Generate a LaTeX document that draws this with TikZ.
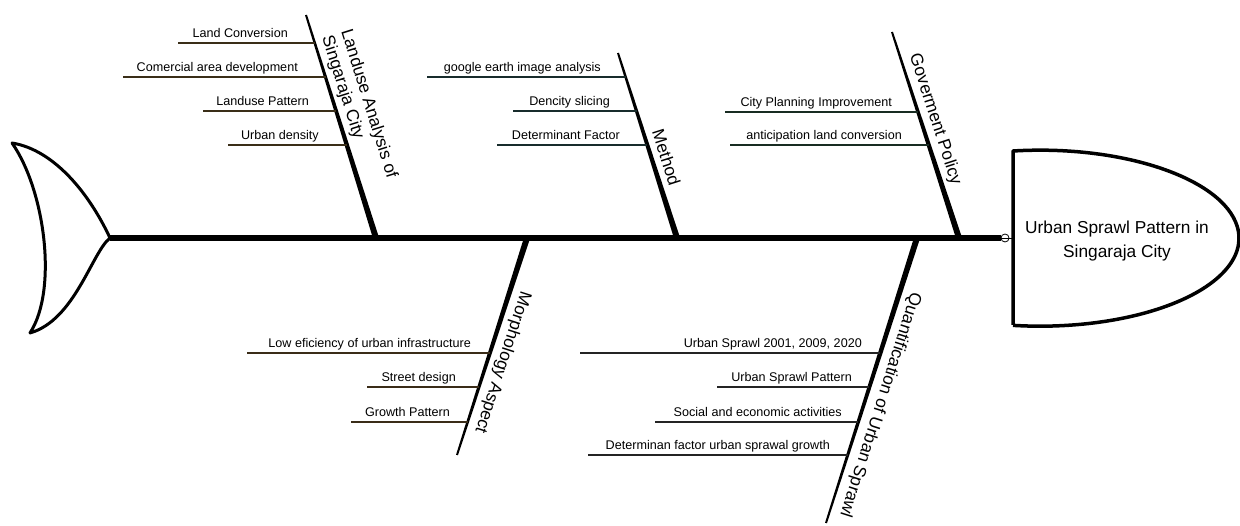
\documentclass[tikz,border=0pt]{standalone}
\usepackage{fontspec}
\setmainfont{Liberation Sans}
\usetikzlibrary{calc}
\definecolor{landc}{RGB}{58,46,24}
\definecolor{methc}{RGB}{24,44,44}
\definecolor{govc}{RGB}{24,44,34}
\definecolor{morphc}{RGB}{58,44,24}
\definecolor{quantc}{RGB}{36,36,36}
\newcommand\taperbone[4]{%
  \fill ($(#1)!#3!90:(#2)$) -- ($(#2)!#4!-90:(#1)$) -- ($(#2)!#4!90:(#1)$) -- ($(#1)!#3!-90:(#2)$) -- cycle;}
\newcommand\fishrib[6]{%
  \coordinate (#1s) at (#2,#3);
  \coordinate (#1e) at (#4,#3);
  \draw[ribline] (#1s) -- (#1e);
  \node[ribtext] (#1t) at (#5,#3-5.5) {#6};}
\begin{document}
\begin{tikzpicture}[x=1pt,y=-1pt,
  ribline/.style={line width=1.8pt},
  ribtext/.style={font=\fontsize{12.6}{15}\selectfont, anchor=base east, inner sep=0pt},
  bonetext/.style={font=\fontsize{17.3}{20}\selectfont, align=left, inner sep=0pt},
  headtext/.style={font=\fontsize{17.3}{24}\selectfont, align=center, inner sep=0pt}]
\useasboundingbox (0,0) rectangle (1240,526);
% tail
\coordinate (T) at (12,143);
\coordinate (J) at (110,238);
\coordinate (B) at (30,333);
\draw[line width=3pt, line join=round] (J) .. controls (90,195) and (55,150) .. (T)
  .. controls (45,190) and (58,290) .. (B)
  .. controls (75,320) and (92,252) .. (J);
% spine
\coordinate (K) at (1005,238);
\coordinate (H) at (1013,238);
\draw[line width=6.5pt] (J) -- (1001,238);
\draw[line width=0.8pt] (1001,238) -- (H);
\node[circle, draw, fill=white, line width=0.8pt, minimum size=8pt, inner sep=0pt] (knot) at (K) {};
\draw[line width=0.8pt] (knot.west) -- (knot.east);
% head
\draw[line width=3.5pt, line join=round] (1013,325) -- (1013,151) arc[start angle=-97.8, end angle=97.8, x radius=199, y radius=88];
\node[headtext] (head) at (1117,241) {Urban Sprawl Pattern in\\Singaraja City};
% bones
\coordinate (LB) at (376,238); \coordinate (LT) at (306,15);
\coordinate (MB) at (677,238); \coordinate (MT) at (618,53);
\coordinate (GB) at (959,238); \coordinate (GT) at (892,32);
\coordinate (PB) at (527,238); \coordinate (PT) at (457,455);
\coordinate (QB) at (917,238); \coordinate (QT) at (826,523);
\taperbone{LB}{LT}{3pt}{1pt}
\taperbone{MB}{MT}{3pt}{1pt}
\taperbone{GB}{GT}{3pt}{1pt}
\taperbone{PB}{PT}{3pt}{1pt}
\taperbone{QB}{QT}{3pt}{1pt}
\node[bonetext, rotate=-72.6] (Llab) at (359,107) {Landuse Analysis of\\Singaraja City};
\node[bonetext, rotate=-72.3] (Mlab) at (666.5,157.5) {Method};
\node[bonetext, rotate=-72.0] (Glab) at (935,119.5) {Goverment Policy};
\node[bonetext, rotate=-107.9] (Plab) at (502.5,362.5) {Morphology Aspect};
\node[bonetext, rotate=-107.7] (Qlab) at (880,405) {Quantification of Urban Sprawl};
% ribs
\begin{scope}[ribline/.append style={draw=landc}]
\fishrib{l1}{178}{43}{314.8}{288}{Land Conversion}
\fishrib{l2}{123}{77}{325.5}{298}{Comercial area development}
\fishrib{l3}{203}{111}{336.1}{309}{Landuse Pattern}
\fishrib{l4}{228}{145}{346.8}{319}{Urban density}
\end{scope}
\begin{scope}[ribline/.append style={draw=methc}]
\fishrib{m1}{427}{77}{625.7}{601}{google earth image analysis}
\fishrib{m2}{513}{111}{636.5}{610}{Dencity slicing}
\fishrib{m3}{497}{145}{647.3}{620}{Determinant Factor}
\end{scope}
\begin{scope}[ribline/.append style={draw=govc}]
\fishrib{g1}{725}{112}{918}{892}{City Planning Improvement}
\fishrib{g2}{730}{145}{928.8}{902}{anticipation land conversion}
\end{scope}
\begin{scope}[ribline/.append style={draw=morphc}]
\fishrib{p1}{247}{353}{489.9}{471}{Low eficiency of urban infrastructure}
\fishrib{p2}{367}{387}{479}{456}{Street design}
\fishrib{p3}{351}{422}{467.6}{450}{Growth Pattern}
\end{scope}
\begin{scope}[ribline/.append style={draw=quantc}]
\fishrib{q1}{580}{353}{880.3}{862}{Urban Sprawl 2001, 2009, 2020}
\fishrib{q2}{717}{387}{869.4}{852}{Urban Sprawl Pattern}
\fishrib{q3}{655}{422}{858.2}{842}{Social and economic activities}
\fishrib{q4}{588}{455}{847.7}{830}{Determinan factor urban sprawal growth}
\end{scope}
\end{tikzpicture}
\end{document}
